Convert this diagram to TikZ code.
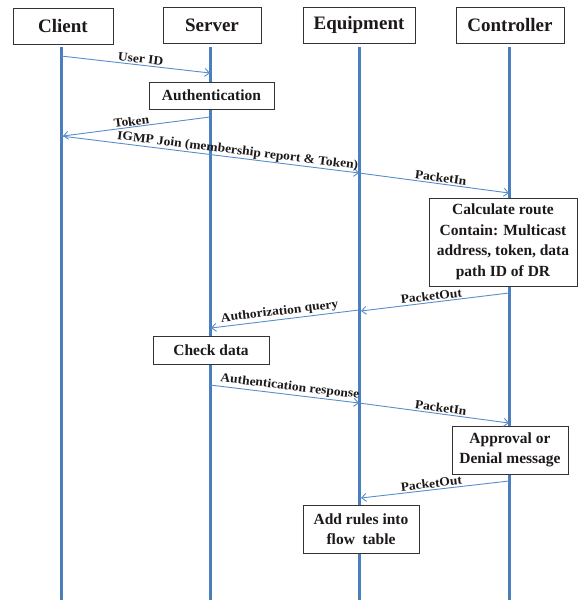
\documentclass[tikz,border=0pt]{standalone}
\usepackage{fontspec}
\setmainfont{Liberation Serif}
\newfontfamily\lblfont[FakeStretch=1.08]{Liberation Serif}
\usetikzlibrary{arrows.meta}
\definecolor{lifec}{RGB}{74,126,189}
\definecolor{msgc}{RGB}{88,140,205}
\definecolor{txt}{RGB}{30,25,25}
\begin{document}
\begin{tikzpicture}[x=1pt,y=-1pt,
  head/.style={draw=black!80, line width=0.8pt, fill=white, text=txt,
    font=\fontsize{19}{22}\selectfont\bfseries, minimum height=36pt, inner sep=0pt},
  act/.style={draw=black!80, line width=0.8pt, fill=white, text=txt, align=center,
    font=\fontsize{15.5}{20.5}\selectfont\bfseries, inner sep=0pt},
  lifeline/.style={draw=lifec, line width=3pt},
  msgarrow/.style={draw=msgc, line width=0.9pt, -{Straight Barb[length=4.5pt,width=8pt]}},
  lbl/.style={font=\lblfont\fontsize{12.5}{14}\selectfont\bfseries, text=txt, sloped, above, inner sep=1.5pt}
]
\useasboundingbox (0,0) rectangle (581,600);

% lifeline ends
\coordinate (cT) at (61,47);  \coordinate (cB) at (61,600);
\coordinate (sT) at (210,47); \coordinate (sB) at (210,600);
\coordinate (eT) at (359,47); \coordinate (eB) at (359,600);
\coordinate (kT) at (509,47); \coordinate (kB) at (509,600);
\draw[lifeline] (cT) -- (cB);
\draw[lifeline] (sT) -- (sB);
\draw[lifeline] (eT) -- (eB);
\draw[lifeline] (kT) -- (kB);

% headers
\node[head, minimum width=100pt] (client) at (63,26) {Client};
\node[head, minimum width=98pt]  (server) at (212,25) {Server};
\node[head, minimum width=112pt] (equip)  at (359,25) {Equipment};
\node[head, minimum width=108pt] (ctrl)   at (510,25) {Controller};

% activity boxes
\node[act, minimum width=125pt, minimum height=27pt] (auth) at (211.5,95.5) {Authentication};
\node[act, minimum width=148pt, minimum height=88pt] (calc) at (503,242)
  {Calculate route\\Contain: Multicast\\address, token, data\\path ID of DR};
\node[act, minimum width=116pt, minimum height=28pt] (check) at (211,350) {Check data};
\node[act, minimum width=116pt, minimum height=48pt] (appr) at (510,450) {Approval or\\Denial message};
\node[act, minimum width=116pt, minimum height=48pt] (rules) at (361,529) {Add rules into\\flow\ \ table};

% message end points
\coordinate (m1s) at (61,56);   \coordinate (m1e) at (210,73);
\coordinate (m2s) at (210,117); \coordinate (m2e) at (63,136);
\coordinate (m3s) at (61,136);  \coordinate (m3e) at (359,173);
\coordinate (m4s) at (359,173); \coordinate (m4e) at (509,193);
\coordinate (m5s) at (509,293); \coordinate (m5e) at (361,311);
\coordinate (m6s) at (359,310); \coordinate (m6e) at (211,328);
\coordinate (m7s) at (210,385); \coordinate (m7e) at (359,403);
\coordinate (m8s) at (359,403); \coordinate (m8e) at (509,423);
\coordinate (m9s) at (509,481); \coordinate (m9e) at (361,498);

\draw[msgarrow] (m1s) -- node[lbl, pos=.53] {User ID} (m1e);
\draw[msgarrow] (m2s) -- node[lbl, pos=.53, inner sep=0.8pt] {Token} (m2e);
\draw[msgarrow] (m3s) -- node[lbl, pos=.59, inner sep=0.5pt] {IGMP Join (membership report \& Token)} (m3e);
\draw[msgarrow] (m4s) -- node[lbl, pos=.54] {PacketIn} (m4e);
\draw[msgarrow] (m5s) -- node[lbl, pos=.52] {PacketOut} (m5e);
\draw[msgarrow] (m6s) -- node[lbl, pos=.53] {Authorization query} (m6e);
\draw[msgarrow] (m7s) -- node[lbl, pos=.53] {Authentication response} (m7e);
\draw[msgarrow] (m8s) -- node[lbl, pos=.54] {PacketIn} (m8e);
\draw[msgarrow] (m9s) -- node[lbl, pos=.52] {PacketOut} (m9e);
\end{tikzpicture}
\end{document}
